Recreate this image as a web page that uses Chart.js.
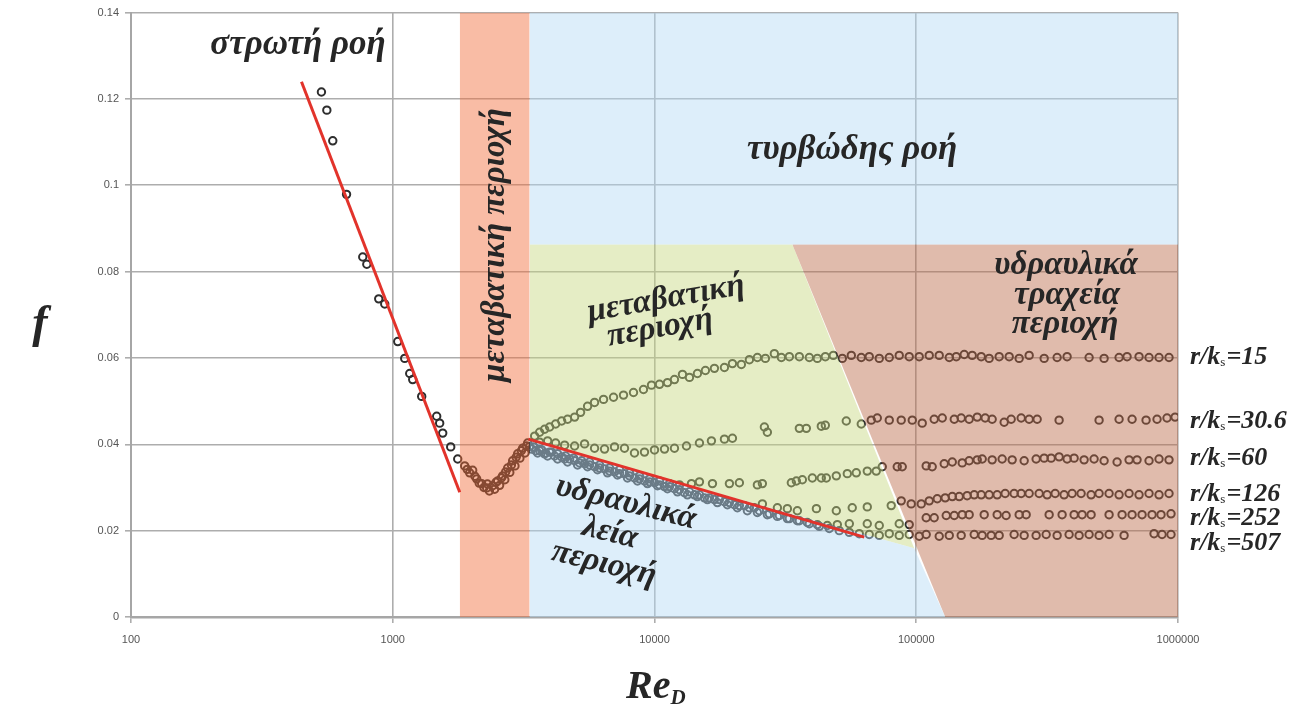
<!DOCTYPE html>
<html>
<head>
<meta charset="utf-8">
<script src="https://cdn.jsdelivr.net/npm/chart.js@4.4.1/dist/chart.umd.min.js"></script>
<style>
  html, body { margin: 0; padding: 0; background: #fff; }
  #wrap { width: 1307px; height: 711px; }
</style>
</head>
<body>
<div id="wrap"><canvas id="chart" width="1307" height="711"></canvas></div>
<script>
// ------------------- Data -------------------
const xTicks = [100, 1000, 10000, 100000, 1000000];
const yTicks = [0, 0.02, 0.04, 0.06, 0.08, 0.1, 0.12, 0.14];

// laminar points
const lamRe = [534, 560, 590, 666, 768, 796, 884, 932, 1045, 1111, 1161, 1192, 1290, 1472, 1511, 1552, 1665, 1771];
const lamF = [0.1216, 0.1174, 0.1103, 0.0979, 0.0834, 0.0817, 0.0737, 0.0725, 0.0638, 0.0599, 0.0564, 0.0550, 0.0511, 0.0465, 0.0449, 0.0426, 0.0394, 0.0366];

// transition dip
const transRe = [1883, 1925, 1967, 2020, 2060, 2092, 2140, 2186, 2230, 2285, 2300, 2340, 2408, 2450, 2480, 2516, 2560, 2600, 2629, 2680, 2700, 2748, 2800, 2840, 2871, 2930, 2960, 3000, 3060, 3100, 3135, 3200, 3240, 3276, 3330];
const transF = [0.0350, 0.0342, 0.0334, 0.0340, 0.0326, 0.0320, 0.0310, 0.0309, 0.0300, 0.0299, 0.0308, 0.0292, 0.0304, 0.0296, 0.0312, 0.0315, 0.0305, 0.0322, 0.0327, 0.0318, 0.0336, 0.0345, 0.0335, 0.0352, 0.0362, 0.0350, 0.0370, 0.0378, 0.0368, 0.0385, 0.0391, 0.0380, 0.0396, 0.0403, 0.0395];

// r/ks = 15
const re15 = [3484, 3640, 3804, 3975, 4190, 4418, 4656, 4952, 5219, 5550, 5902, 6388, 6974, 7614, 8313, 9076, 9739, 10450, 11210, 11920, 12790, 13600, 14590, 15650, 16940, 18500, 19850, 21470, 23040, 24720, 26520, 28700, 30530, 32750, 35760, 39040, 41890, 44940, 48220, 52180, 56480, 61650, 66150, 72230, 78870, 86100, 94000, 102650, 112100, 122400, 133700, 142200, 152500, 163600, 177100, 189900, 207400, 226500, 247300, 270000, 308100, 345300, 377000, 457500, 522000, 595500, 638900, 709900, 775100, 846300, 924000];
const f15 = [0.0419, 0.0428, 0.0435, 0.0440, 0.0447, 0.0454, 0.0458, 0.0463, 0.0474, 0.0488, 0.0497, 0.0504, 0.0509, 0.0514, 0.0520, 0.0527, 0.0537, 0.0539, 0.0543, 0.0550, 0.0562, 0.0555, 0.0564, 0.0571, 0.0576, 0.0578, 0.0587, 0.0585, 0.0596, 0.0601, 0.0599, 0.0610, 0.0601, 0.0603, 0.0603, 0.0601, 0.0599, 0.0603, 0.0606, 0.0599, 0.0606, 0.0601, 0.0603, 0.0599, 0.0601, 0.0606, 0.0603, 0.0603, 0.0606, 0.0606, 0.0601, 0.0603, 0.0608, 0.0606, 0.0603, 0.0599, 0.0603, 0.0603, 0.0599, 0.0606, 0.0599, 0.0601, 0.0603, 0.0601, 0.0599, 0.0601, 0.0603, 0.0603, 0.0601, 0.0601, 0.0601];

// r/ks = 30.6
const re30 = [3640, 3906, 4190, 4535, 4952, 5406, 5902, 6444, 7035, 7681, 8386, 9156, 10000, 10920, 11920, 13250, 14850, 16500, 18500, 19850, 26290, 26990, 35760, 38030, 43380, 44940, 54040, 61650, 67320, 70980, 78870, 87620, 96550, 105400, 117100, 125700, 139700, 148500, 159300, 171000, 183400, 195000, 216700, 230500, 251700, 270000, 289700, 351400, 499500, 595500, 667700, 755100, 831600, 907900, 974800];
const f30 = [0.0405, 0.0408, 0.0403, 0.0398, 0.0396, 0.0401, 0.0391, 0.0389, 0.0394, 0.0391, 0.0380, 0.0382, 0.0387, 0.0389, 0.0391, 0.0396, 0.0403, 0.0408, 0.0412, 0.0414, 0.0440, 0.0428, 0.0437, 0.0437, 0.0442, 0.0444, 0.0454, 0.0447, 0.0456, 0.0461, 0.0456, 0.0456, 0.0456, 0.0449, 0.0458, 0.0461, 0.0458, 0.0461, 0.0458, 0.0463, 0.0461, 0.0458, 0.0451, 0.0458, 0.0461, 0.0458, 0.0458, 0.0456, 0.0456, 0.0458, 0.0458, 0.0456, 0.0458, 0.0461, 0.0463];

// r/ks = 60
const re60 = [3453, 3705, 3975, 4265, 4575, 4909, 5267, 5648, 6167, 6733, 7351, 8025, 8762, 9570, 10450, 11410, 12456, 13840, 14850, 16650, 19330, 21100, 24720, 25830, 33330, 34830, 36720, 40090, 43380, 45340, 49500, 54530, 59010, 65000, 70340, 74160, 84600, 88400, 109150, 115060, 127900, 137270, 149850, 159300, 171000, 178640, 195000, 212900, 232500, 258400, 287100, 308100, 327600, 351400, 377100, 401000, 437800, 478000, 522000, 585200, 650200, 697500, 775100, 846300, 924000];
const f60 = [0.0394, 0.0387, 0.0382, 0.0378, 0.0373, 0.0368, 0.0362, 0.0359, 0.0352, 0.0345, 0.0341, 0.0334, 0.0327, 0.0320, 0.0315, 0.0309, 0.0306, 0.0309, 0.0313, 0.0309, 0.0309, 0.0311, 0.0306, 0.0309, 0.0311, 0.0315, 0.0318, 0.0322, 0.0322, 0.0322, 0.0327, 0.0332, 0.0334, 0.0338, 0.0338, 0.0348, 0.0348, 0.0348, 0.0350, 0.0348, 0.0355, 0.0359, 0.0357, 0.0362, 0.0364, 0.0366, 0.0364, 0.0366, 0.0364, 0.0362, 0.0366, 0.0368, 0.0368, 0.0371, 0.0366, 0.0368, 0.0364, 0.0366, 0.0362, 0.0359, 0.0364, 0.0364, 0.0362, 0.0366, 0.0364];

// r/ks = 126
const re126 = [3515, 3804, 4153, 4535, 4952, 5406, 5902, 6444, 7035, 7681, 8386, 9156, 10000, 10920, 11920, 13016, 14210, 15517, 16941, 18500, 20200, 22050, 24080, 25830, 29480, 32180, 35140, 41550, 49500, 56950, 65000, 80250, 87620, 95670, 104500, 112100, 120300, 129000, 137300, 145900, 156500, 166500, 177100, 189900, 203800, 218600, 236600, 251700, 270000, 294800, 316300, 339400, 367200, 394000, 426400, 465600, 499500, 545400, 595500, 650200, 709900, 775100, 846300, 924000];
const f126 = [0.0385, 0.0378, 0.0373, 0.0366, 0.0362, 0.0355, 0.0348, 0.0343, 0.0336, 0.0332, 0.0322, 0.0315, 0.0311, 0.0302, 0.0297, 0.0288, 0.0283, 0.0276, 0.0272, 0.0267, 0.0260, 0.0258, 0.0253, 0.0262, 0.0253, 0.0251, 0.0246, 0.0251, 0.0246, 0.0253, 0.0255, 0.0258, 0.0269, 0.0262, 0.0262, 0.0269, 0.0274, 0.0276, 0.0279, 0.0279, 0.0281, 0.0283, 0.0283, 0.0283, 0.0283, 0.0286, 0.0286, 0.0286, 0.0286, 0.0286, 0.0283, 0.0286, 0.0283, 0.0286, 0.0286, 0.0283, 0.0286, 0.0286, 0.0283, 0.0286, 0.0283, 0.0286, 0.0283, 0.0286];

// r/ks = 252
const re252 = [3577, 3906, 4265, 4656, 5083, 5550, 6060, 6616, 7223, 7886, 8610, 9403, 10270, 11210, 12240, 13360, 14590, 15930, 17390, 18990, 20730, 22640, 24720, 26990, 29480, 32180, 35140, 38360, 41890, 45730, 49940, 55500, 64990, 72230, 86100, 94000, 109150, 117100, 130200, 139700, 149850, 159300, 181800, 203800, 220500, 247300, 263000, 321900, 360800, 401000, 430200, 465600, 545400, 611500, 667700, 729000, 795900, 861300, 940300];
const f252 = [0.0380, 0.0373, 0.0366, 0.0359, 0.0352, 0.0348, 0.0341, 0.0334, 0.0329, 0.0322, 0.0315, 0.0309, 0.0304, 0.0297, 0.0290, 0.0283, 0.0279, 0.0272, 0.0265, 0.0260, 0.0253, 0.0246, 0.0242, 0.0237, 0.0233, 0.0228, 0.0223, 0.0219, 0.0214, 0.0212, 0.0214, 0.0216, 0.0216, 0.0212, 0.0216, 0.0214, 0.0230, 0.0230, 0.0235, 0.0235, 0.0237, 0.0237, 0.0237, 0.0237, 0.0235, 0.0237, 0.0237, 0.0237, 0.0237, 0.0237, 0.0237, 0.0237, 0.0237, 0.0237, 0.0237, 0.0237, 0.0237, 0.0237, 0.0239];

// r/ks = 507
const re507 = [3393, 3640, 3838, 4045, 4418, 4739, 5173, 5648, 6167, 6733, 7351, 8025, 8762, 9570, 10450, 11410, 12456, 13600, 14850, 16213, 17700, 19330, 21100, 23040, 25160, 27470, 30000, 32750, 35760, 39040, 42630, 46540, 50820, 55500, 60580, 66150, 72230, 78870, 86100, 94000, 102650, 109150, 122400, 133700, 148500, 166500, 178600, 193300, 207400, 236600, 258400, 287100, 313600, 345300, 383700, 419000, 457500, 499500, 545400, 622300, 810000, 869000, 940300];
const f507 = [0.0389, 0.0385, 0.0380, 0.0382, 0.0371, 0.0366, 0.0357, 0.0352, 0.0345, 0.0338, 0.0332, 0.0327, 0.0320, 0.0313, 0.0306, 0.0302, 0.0295, 0.0290, 0.0283, 0.0276, 0.0272, 0.0265, 0.0258, 0.0253, 0.0246, 0.0239, 0.0235, 0.0228, 0.0223, 0.0216, 0.0210, 0.0205, 0.0200, 0.0196, 0.0193, 0.0191, 0.0189, 0.0193, 0.0189, 0.0191, 0.0187, 0.0191, 0.0187, 0.0189, 0.0189, 0.0191, 0.0189, 0.0189, 0.0189, 0.0191, 0.0189, 0.0189, 0.0191, 0.0189, 0.0191, 0.0189, 0.0191, 0.0189, 0.0191, 0.0189, 0.0193, 0.0191, 0.0191];

// red fit lines
const lamLineRe = [448, 1803];
const lamLineF = [0.1240, 0.0289];
const smoothLineRe = [3300, 63300];
const smoothLineF = [0.0412, 0.0185];

// regions (Re / f corners)
const transZoneRe = [1803, 3334];
const turbZoneRe = [3334, 1000000];
const zoneTopF = 0.14;
const zoneMidF = 0.0863;
const smoothEdgeRe = [3334, 98230, 129000];
const smoothEdgeF = [0.0408, 0.0159, 0];
const greenTopRe = [3334, 33620, 98230];
const greenTopF = [0.0863, 0.0863, 0.0159];
const roughTopRe = [33620, 1000000];
const roughEdgeRe = [33620, 129000, 1000000];
const roughEdgeF = [0.0863, 0, 0];

// ------------------- Helpers -------------------
function pts(xs, ys) {
  return xs.map((x, i) => ({ x: x, y: ys[i] }));
}
function flat(xs, y) {
  return xs.map(x => ({ x: x, y: y }));
}

const markerColor = "#2e2e2e";
function markers(xs, ys) {
  return {
    type: "scatter",
    data: pts(xs, ys),
    order: 2,
    pointStyle: "circle",
    pointRadius: 3.7,
    pointBorderWidth: 2,
    pointBorderColor: markerColor,
    pointBackgroundColor: "rgba(0,0,0,0)",
    showLine: false
  };
}
function zone(data, color, fill) {
  return {
    type: "line",
    data: data,
    order: 1,
    borderWidth: 0,
    borderColor: "rgba(0,0,0,0)",
    pointRadius: 0,
    tension: 0,
    backgroundColor: color,
    fill: fill
  };
}
function redLine(xs, ys) {
  return {
    type: "line",
    data: pts(xs, ys),
    order: 0,
    borderColor: "#e2332b",
    borderWidth: 3,
    pointRadius: 0,
    tension: 0,
    fill: false
  };
}

// ------------------- Text labels -------------------
const serif = "'Liberation Serif', 'DejaVu Serif', serif";
const texts = [
  { t: "στρωτή ροή", x: 298, y: 45, size: 35, rot: 0 },
  { t: "μεταβατική περιοχή", x: 495, y: 245, size: 33, rot: -90 },
  { t: "τυρβώδης ροή", x: 852, y: 150, size: 35, rot: 0 },
  { t: "μεταβατική", x: 666, y: 299, size: 33, rot: -10 },
  { t: "περιοχή", x: 660, y: 328, size: 33, rot: -10 },
  { t: "υδραυλικά", x: 626, y: 503, size: 33, rot: 14 },
  { t: "λεία", x: 610, y: 533, size: 33, rot: 14 },
  { t: "περιοχή", x: 604, y: 564, size: 33, rot: 14 },
  { t: "υδραυλικά", x: 1066, y: 265, size: 33, rot: 0 },
  { t: "τραχεία", x: 1067, y: 295, size: 33, rot: 0 },
  { t: "περιοχή", x: 1065, y: 324, size: 33, rot: 0 }
];
const roughLabels = ["15", "30.6", "60", "126", "252", "507"];
const roughLabelY = [357, 421, 458, 494, 518, 543];

const textPlugin = {
  id: "greekLabels",
  afterDraw(chart) {
    const ctx = chart.ctx;
    ctx.save();
    ctx.fillStyle = "#262626";
    ctx.textAlign = "center";
    ctx.textBaseline = "middle";
    texts.forEach(l => {
      ctx.save();
      ctx.translate(l.x, l.y);
      ctx.rotate(l.rot * Math.PI / 180);
      ctx.font = "italic bold " + l.size + "px " + serif;
      ctx.fillText(l.t, 0, 0);
      ctx.restore();
    });

    // r/ks labels
    ctx.textAlign = "left";
    roughLabels.forEach((v, i) => {
      let x = 1190;
      const y = roughLabelY[i];
      ctx.font = "italic bold 26px " + serif;
      ctx.fillText("r/k", x, y);
      x += ctx.measureText("r/k").width;
      ctx.font = "13px " + serif;
      ctx.fillText("s", x, y + 6);
      x += ctx.measureText("s").width + 1;
      ctx.font = "italic bold 26px " + serif;
      ctx.fillText("=" + v, x, y);
    });

    // axis titles
    ctx.font = "italic bold 46px " + serif;
    ctx.textAlign = "center";
    ctx.fillText("f", 40, 325);
    ctx.font = "italic bold 40px " + serif;
    ctx.textAlign = "left";
    ctx.fillText("Re", 626, 688);
    const w = ctx.measureText("Re").width;
    ctx.font = "italic bold 21px " + serif;
    ctx.fillText("D", 626 + w, 699);
    ctx.restore();
  }
};

// ------------------- Chart -------------------
const datasets = [
  zone(flat(turbZoneRe, zoneTopF), "rgba(179,217,244,0.45)", { value: zoneMidF }),
  zone(pts(smoothEdgeRe, smoothEdgeF), "rgba(179,217,244,0.45)", "origin"),
  zone(flat(transZoneRe, zoneTopF), "rgba(242,106,55,0.45)", "origin"),
  zone(pts(greenTopRe, greenTopF), "rgba(197,215,126,0.45)", 1),
  zone(flat(roughTopRe, zoneMidF), "rgba(186,104,71,0.45)", 5),
  zone(pts(roughEdgeRe, roughEdgeF), "rgba(0,0,0,0)", false),
  markers(lamRe, lamF),
  markers(transRe, transF),
  markers(re15, f15),
  markers(re30, f30),
  markers(re60, f60),
  markers(re126, f126),
  markers(re252, f252),
  markers(re507, f507),
  redLine(lamLineRe, lamLineF),
  redLine(smoothLineRe, smoothLineF)
];

const tickFont = { family: "'Liberation Sans Narrow', 'Liberation Sans', sans-serif", size: 11 };

new Chart(document.getElementById("chart"), {
  type: "scatter",
  data: { datasets: datasets },
  options: {
    responsive: false,
    animation: false,
    layout: { padding: { left: 0, right: 129, top: 9, bottom: 0 } },
    plugins: {
      legend: { display: false },
      tooltip: { enabled: false }
    },
    scales: {
      x: {
        type: "logarithmic",
        min: xTicks[0],
        max: xTicks[xTicks.length - 1],
        afterBuildTicks: axis => { axis.ticks = xTicks.map(v => ({ value: v })); },
        afterFit: axis => { axis.height = 94; },
        ticks: { color: "#555", font: tickFont, padding: 10, maxRotation: 0, callback: v => String(v) },
        grid: { color: "#adadad", lineWidth: 1.6, tickLength: 6 },
        border: { color: "#a6a6a6", width: 2.5 }
      },
      y: {
        min: 0,
        max: 0.14,
        afterBuildTicks: axis => { axis.ticks = yTicks.map(v => ({ value: v })); },
        afterFit: axis => { axis.width = 131; },
        ticks: { color: "#555", font: tickFont, padding: 6, callback: v => String(Number(v.toFixed(2))) },
        grid: { color: "#adadad", lineWidth: 1.6, tickLength: 6 },
        border: { color: "#a6a6a6", width: 2 }
      }
    }
  },
  plugins: [textPlugin]
});
</script>
</body>
</html>
